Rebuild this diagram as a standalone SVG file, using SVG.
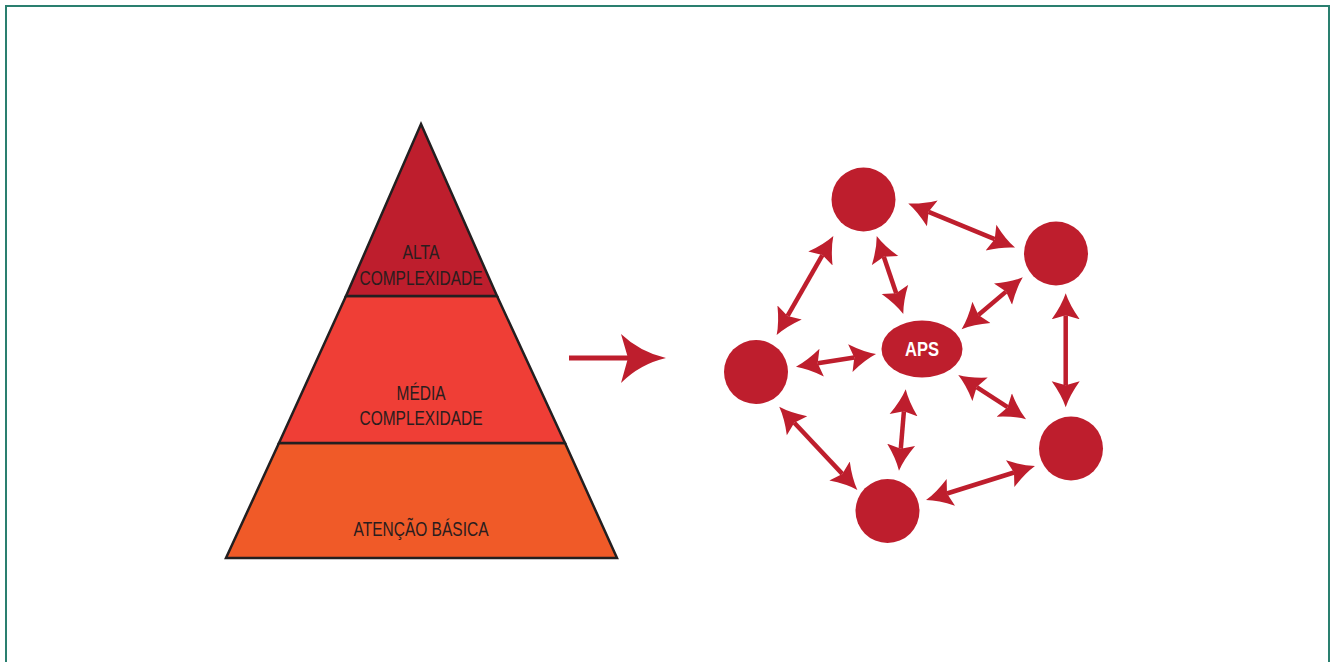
<svg xmlns="http://www.w3.org/2000/svg" width="1335" height="662" viewBox="0 0 1335 662">
  <style>
    .tier { stroke: #231f20; stroke-width: 2.5; stroke-linejoin: miter; }
    .lbl { font-family: "Liberation Sans", Arial, sans-serif; font-size: 21px; fill: #2b1d1e; text-anchor: middle; }
    .node { fill: #be1e2d; }
    .link { stroke: #be1e2d; stroke-width: 4.5; fill: none; marker-start: url(#barb); marker-end: url(#barb); }
    .aps { font-family: "Liberation Sans", Arial, sans-serif; font-size: 20px; font-weight: bold; fill: #ffffff; text-anchor: middle; }
  </style>
  <defs>
    <marker id="barb" viewBox="0 -15 30 30" markerUnits="userSpaceOnUse" markerWidth="30" markerHeight="30" refX="4" refY="0" orient="auto-start-reverse">
      <path d="M0,-14 Q14,-4 26,0 Q14,4 0,14 L4,0 Z" fill="#be1e2d"/>
    </marker>
  </defs>

  <rect width="1335" height="662" fill="#ffffff"/>
  <!-- frame -->
  <path d="M6,662 V6 H1329 V662" fill="none" stroke="#2a7f6f" stroke-width="2"/>

  <!-- pyramid of care levels -->
  <g id="pyramid">
    <g id="tier-base">
      <polygon class="tier" points="279,443 565,443 617,558 226,558" fill="#f05a28"/>
      <text class="lbl" x="421" y="536" textLength="135" lengthAdjust="spacingAndGlyphs">ATENÇÃO BÁSICA</text>
    </g>
    <g id="tier-middle">
      <polygon class="tier" points="346,296 497,296 565,443 279,443" fill="#ef3e36"/>
      <text class="lbl" x="421" y="400" textLength="49" lengthAdjust="spacingAndGlyphs">MÉDIA</text>
      <text class="lbl" x="421" y="425" textLength="123" lengthAdjust="spacingAndGlyphs">COMPLEXIDADE</text>
    </g>
    <g id="tier-top">
      <polygon class="tier" points="421,124 497,296 346,296" fill="#be1e2d"/>
      <text class="lbl" x="421" y="259" textLength="37" lengthAdjust="spacingAndGlyphs">ALTA</text>
      <text class="lbl" x="421" y="285" textLength="123" lengthAdjust="spacingAndGlyphs">COMPLEXIDADE</text>
    </g>
  </g>

  <!-- transition arrow -->
  <g id="transition">
    <line x1="569" y1="358" x2="632" y2="358" stroke="#be1e2d" stroke-width="5"/>
    <path d="M621,334 Q640,352 666,358 Q640,364 621,383 L628,358 Z" fill="#be1e2d"/>
  </g>

  <!-- network connectors -->
  <g id="connectors">
    <line class="link" x1="928.6" y1="211.8" x2="994.7" y2="239.2"/>
    <line class="link" x1="883.8" y1="256.8" x2="896.2" y2="293.2"/>
    <line class="link" x1="822.4" y1="255.1" x2="787.6" y2="315.9"/>
    <line class="link" x1="1006" y1="291.6" x2="978.4" y2="315"/>
    <line class="link" x1="1065.7" y1="315.3" x2="1065.7" y2="385.3"/>
    <line class="link" x1="817.7" y1="363.3" x2="854.3" y2="357.5"/>
    <line class="link" x1="976.7" y1="387.1" x2="1007.6" y2="407.2"/>
    <line class="link" x1="903.9" y1="411.2" x2="900.8" y2="448.8"/>
    <line class="link" x1="794.3" y1="422.8" x2="842.3" y2="473.9"/>
    <line class="link" x1="947" y1="493.5" x2="1014" y2="472.5"/>
  </g>

  <!-- network nodes -->
  <g id="node-top"><circle class="node" cx="863.5" cy="199.5" r="32"/></g>
  <g id="node-top-right"><circle class="node" cx="1056" cy="253.5" r="32"/></g>
  <g id="node-left"><circle class="node" cx="756" cy="372" r="32"/></g>
  <g id="node-bottom"><circle class="node" cx="887.5" cy="511" r="32"/></g>
  <g id="node-bottom-right"><circle class="node" cx="1071" cy="448.5" r="32"/></g>
  <g id="node-aps">
    <ellipse class="node" cx="922" cy="349" rx="40.5" ry="28.5"/>
    <text class="aps" x="922" y="356" textLength="34" lengthAdjust="spacingAndGlyphs">APS</text>
  </g>
</svg>
